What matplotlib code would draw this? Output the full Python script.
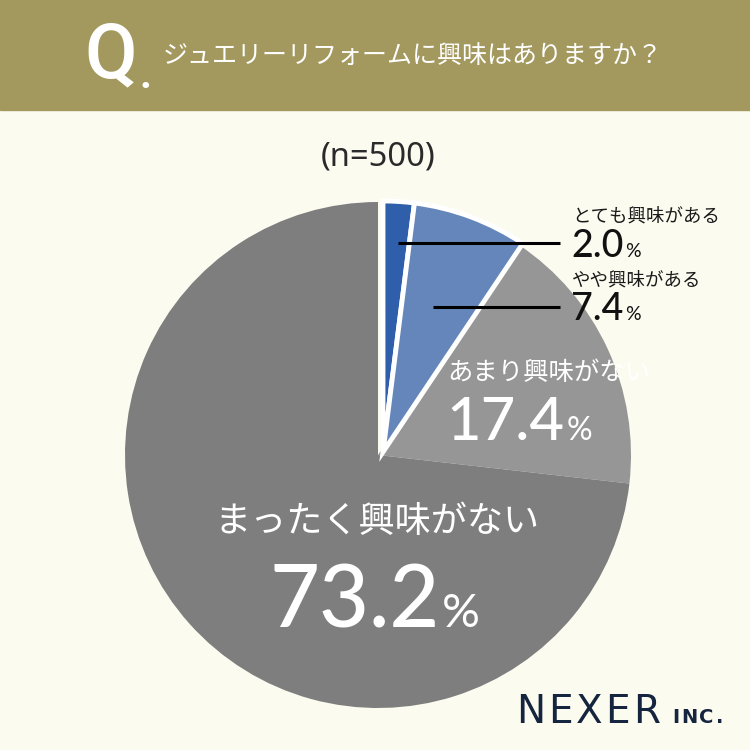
import matplotlib
matplotlib.use("Agg")
import matplotlib.pyplot as plt
from matplotlib.patches import Rectangle
import numpy as np

# ---- data ----
categories = ["とても興味がある", "やや興味がある", "あまり興味がない", "まったく興味がない"]
values = [2.0, 7.4, 17.4, 73.2]
value_labels = ["2.0", "7.4", "17.4", "73.2"]
colors = ["#2f5eab", "#6486ba", "#969696", "#7e7e7e"]
title = "ジュエリーリフォームに興味はありますか？"
n_label = "(n=500)"

W = H = 750
fig = plt.figure(figsize=(7.5, 7.5), dpi=100)
fig.patch.set_facecolor("#fcfbf0")
ax = fig.add_axes([0, 0, 1, 1])
ax.set_xlim(0, W)
ax.set_ylim(0, H)
ax.axis("off")


def Y(p):
    return H - p


JP = ["Noto Sans CJK JP", "DejaVu Sans"]
NUM = ["Lato", "DejaVu Sans"]
NW = 500

# header
ax.add_patch(Rectangle((0, Y(110)), W, 110, color="#a3995e", zorder=1))
ax.text(84, Y(57), "Q", fontsize=55, color="white", family=["Roboto"], weight="medium",
        ha="left", va="center", zorder=3)
ax.text(139, Y(77), ".", fontsize=30, color="white", family=["Roboto"], weight="bold",
        ha="left", va="center", zorder=3)
ax.text(163, Y(56), title, fontsize=18, color="white", family=JP,
        ha="left", va="center", zorder=3)

ax.text(378, Y(157), n_label, fontsize=23.5, color="#2a2a2a", family=["Noto Sans", "DejaVu Sans"],
        ha="center", va="center")

# pie
cx, cy, R = 378, Y(455), 253
wedges, _ = ax.pie(values, colors=colors, startangle=90, counterclock=False,
                   center=(cx, cy), radius=R, frame=True)
ax.set_xlim(0, W)
ax.set_ylim(0, H)
ax.axis("off")
ax.set_aspect("equal")
for w in wedges:
    w.set_zorder(2)
    w.set_linewidth(0)
dx, dy = 5, 3
for w in wedges[:2]:
    w.set_center((cx + dx, cy + dy))
    w.set_radius(R - 2)
    w.set_edgecolor("white")
    w.set_linewidth(3.5)
    w.set_zorder(2.5)

# leader lines
ax.plot([398, 560], [Y(243), Y(243)], color="black", lw=2.2, zorder=4, solid_capstyle="butt")
ax.plot([433, 560], [Y(307), Y(307)], color="black", lw=2.2, zorder=4, solid_capstyle="butt")

fig.canvas.draw()
renderer = fig.canvas.get_renderer()
inv = ax.transData.inverted()


def num_pct(x, y, s, fs, pfs, color):
    t = ax.text(x, y, s, fontsize=fs, color=color, family=NUM, weight=NW, ha="left",
                va="baseline", zorder=5)
    bb = t.get_window_extent(renderer)
    x2 = inv.transform((bb.x1, bb.y0))[0]
    ax.text(x2 + 2, y, "%", fontsize=pfs, color=color, family=NUM, ha="left",
            va="baseline", zorder=5)


# small labels (right side)
ax.text(572, Y(217), categories[0], fontsize=13.3, color="#1a1a1a", family=JP, ha="left", va="center")
num_pct(571, Y(257), value_labels[0], 27, 14, "#111111")
ax.text(572, Y(281), categories[1], fontsize=13.3, color="#1a1a1a", family=JP, ha="left", va="center")
num_pct(571, Y(320), value_labels[1], 27, 14, "#111111")

# inside labels
ax.text(447, Y(373), categories[2], fontsize=18.3, color="white", family=JP, ha="left", va="center", zorder=5)
num_pct(446, Y(440), value_labels[2], 43, 23, "white")

ax.text(214, Y(522), categories[3], fontsize=26, color="white", family=JP, ha="left", va="center", zorder=5)
num_pct(270, Y(627), value_labels[3], 62, 34, "white")

# logo
x = 516
for ch in "NEXER":
    t = ax.text(x, Y(723), ch, fontsize=28, color="#15243f", family=["DejaVu Sans"],
                ha="left", va="baseline")
    bb = t.get_window_extent(renderer)
    x = inv.transform((bb.x1, bb.y0))[0] + 3
x = 672
for ch in "INC.":
    t = ax.text(x, Y(723), ch, fontsize=14, color="#15243f", family=["DejaVu Sans"],
                weight="bold", ha="left", va="baseline")
    bb = t.get_window_extent(renderer)
    x = inv.transform((bb.x1, bb.y0))[0] + 2

fig.savefig("out.png", dpi=100, facecolor=fig.get_facecolor())
